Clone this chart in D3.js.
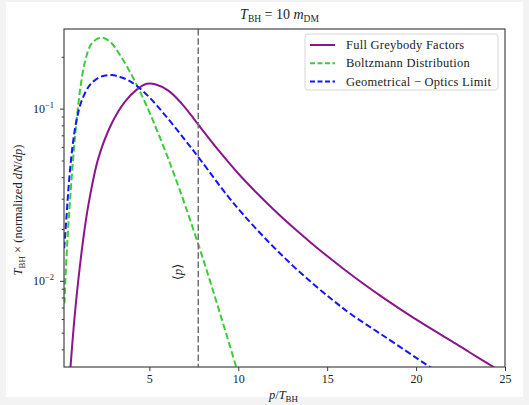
<!DOCTYPE html>
<html>
<head>
<meta charset="utf-8">
<script src="https://cdn.jsdelivr.net/npm/d3@7"></script>
<style>
body { margin: 0; background: #f3f3f3; }
svg { display: block; }
text { font-family: "Liberation Serif", "DejaVu Serif", serif; fill: #222; }
</style>
</head>
<body>
<div id="chart"></div>
<script>
// curves (p / T_BH , T_BH * normalized dN/dp)
const fullP = [0.45, 0.55, 0.75, 1.00, 1.30, 1.57, 2.13, 2.88, 3.63, 4.29, 4.85, 5.32, 6.07, 6.82, 7.57, 8, 9, 10, 11, 12, 13, 14, 15, 16, 17, 18, 19, 20, 21, 22, 23, 24, 25];
const fullV = [0.00219, 0.00301, 0.00547, 0.0100, 0.01803, 0.02754, 0.0514, 0.0819, 0.1099, 0.1289, 0.1393, 0.1387, 0.1272, 0.1070, 0.0855, 0.0748, 0.0555, 0.0420, 0.0327, 0.0259, 0.0208, 0.01694, 0.01393, 0.01156, 0.00968, 0.00818, 0.00697, 0.00597, 0.00515, 0.00447, 0.00385, 0.00333, 0.00288];

const boltzP = [0.22, 0.28, 0.37, 0.48, 0.72, 0.91, 1.10, 1.38, 1.76, 2.28, 2.79, 3.35, 3.91, 4.38, 4.76, 5.13, 5.50, 5.98, 6.35, 6.82, 7.85, 8.41, 8.97, 9.54, 9.86, 9.99];
const boltzV = [0.00738, 0.01028, 0.01556, 0.02393, 0.0519, 0.0858, 0.1272, 0.1873, 0.2395, 0.2582, 0.2446, 0.2048, 0.1634, 0.1316, 0.1086, 0.0889, 0.0718, 0.0539, 0.0426, 0.0313, 0.01519, 0.00999, 0.00649, 0.00415, 0.00322, 0.0029];

const geoP = [0.21, 0.34, 0.43, 0.54, 0.71, 0.93, 1.21, 1.66, 2.23, 2.88, 3.35, 3.82, 4.35, 5.04, 5.88, 7.01, 7.95, 9.35, 10.28, 11.60, 12.91, 14.22, 15.35, 16.29, 18.16, 20.60, 21.18];
const geoV = [0.0155, 0.02358, 0.03218, 0.04416, 0.06412, 0.0882, 0.1122, 0.1372, 0.1527, 0.1568, 0.1527, 0.1461, 0.1341, 0.1153, 0.0918, 0.0657, 0.0492, 0.0316, 0.02427, 0.01726, 0.01268, 0.00958, 0.00768, 0.00646, 0.0048, 0.00325, 0.00296];

const meanP = 7.75;
const xTicks = [5, 10, 15, 20, 25];
const yTicks = [0.1, 0.01];
const yTickExp = ["\u22121", "\u22122"];

const margin = { top: 29, right: 24, bottom: 38, left: 64 };
const width = 529 - margin.left - margin.right;
const height = 405 - margin.top - margin.bottom;

const root = d3.select("#chart").append("svg")
    .attr("width", 529)
    .attr("height", 405);

root.append("rect")
    .attr("x", 6).attr("y", 2)
    .attr("width", 517).attr("height", 395)
    .attr("fill", "#fff");

const svg = root.append("g")
    .attr("transform", `translate(${margin.left},${margin.top})`);

const xScale = d3.scaleLinear().domain([0.2, 25]).range([0, width]);
const yScale = d3.scaleLog().domain([0.00316, 0.29]).range([height, 0]);

svg.append("clipPath").attr("id", "plot-clip")
    .append("rect").attr("width", width).attr("height", height);

// x axis
const xAxis = svg.append("g")
    .attr("transform", `translate(0,${height})`)
    .call(d3.axisBottom(xScale).tickValues(xTicks).tickSize(4).tickPadding(3).tickFormat(d3.format("d")));
xAxis.select(".domain").remove();
xAxis.selectAll("line").attr("stroke", "#333");
xAxis.selectAll("text").style("font-size", "12px").style("font-family", "Liberation Serif").attr("fill", "#222");

// y axis, minor ticks then major
const minor = yScale.ticks().filter(t => yTicks.indexOf(t) < 0);
const yMinor = svg.append("g")
    .call(d3.axisLeft(yScale).tickValues(minor).tickSize(2.3).tickFormat(""));
yMinor.select(".domain").remove();
yMinor.selectAll("line").attr("stroke", "#333");

const yAxis = svg.append("g")
    .call(d3.axisLeft(yScale).tickValues(yTicks).tickSize(4).tickFormat(""));
yAxis.select(".domain").remove();
yAxis.selectAll("line").attr("stroke", "#333");

yTicks.forEach((t, i) => {
    const lab = svg.append("text")
        .attr("x", -10)
        .attr("y", yScale(t) + 4)
        .attr("text-anchor", "end")
        .style("font-size", "12px");
    lab.append("tspan").text("10");
    lab.append("tspan").attr("dy", -5).style("font-size", "8.5px").text(yTickExp[i]);
});

const line = d3.line()
    .x(d => xScale(d[0]))
    .y(d => yScale(d[1]))
    .curve(d3.curveCatmullRom.alpha(0.5));

const plot = svg.append("g").attr("clip-path", "url(#plot-clip)");

const series = [
    { name: "Full Greybody Factors", p: fullP, v: fullV, color: "#8b168b", dash: null },
    { name: "Boltzmann Distribution", p: boltzP, v: boltzV, color: "#3acc3a", dash: "6.5,3" },
    { name: "Geometrical \u2212 Optics Limit", p: geoP, v: geoV, color: "#1515ff", dash: "6.5,3" }
];

series.forEach(s => {
    plot.append("path")
        .datum(s.p.map((p, i) => [p, s.v[i]]))
        .attr("fill", "none")
        .attr("stroke", s.color)
        .attr("stroke-width", 2)
        .attr("stroke-dasharray", s.dash)
        .attr("d", line);
});

// mean momentum marker
plot.append("line")
    .attr("x1", xScale(meanP)).attr("x2", xScale(meanP))
    .attr("y1", 0).attr("y2", height)
    .attr("stroke", "#707070")
    .attr("stroke-width", 1.5)
    .attr("stroke-dasharray", "6.5,2.8");

const pLab = svg.append("text")
    .attr("transform", `translate(${xScale(meanP) - 20},${272 - margin.top}) rotate(-90)`)
    .attr("y", 4)
    .attr("text-anchor", "middle")
    .style("font-size", "13px")
    .attr("fill", "#555");
pLab.append("tspan").text("\u27E8");
pLab.append("tspan").style("font-style", "italic").text("p");
pLab.append("tspan").text("\u27E9");

// frame
svg.append("rect")
    .attr("width", width).attr("height", height)
    .attr("fill", "none")
    .attr("stroke", "#444")
    .attr("stroke-width", 1.2);

// legend
const legend = svg.append("g").attr("transform", "translate(241,5)");
legend.append("rect")
    .attr("width", 193).attr("height", 56)
    .attr("rx", 3)
    .attr("fill", "#fff")
    .attr("fill-opacity", 0.85)
    .attr("stroke", "#d6d6d6");

series.forEach((s, i) => {
    const yy = 11 + i * 18.3;
    legend.append("line")
        .attr("x1", 5).attr("x2", 30)
        .attr("y1", yy).attr("y2", yy)
        .attr("stroke", s.color)
        .attr("stroke-width", 2)
        .attr("stroke-dasharray", s.dash ? "5,2.5" : null);
    legend.append("text")
        .attr("x", 41).attr("y", yy + 4)
        .style("font-size", "12.5px")
        .style("letter-spacing", "0.25px")
        .text(s.name);
});

// title
const title = svg.append("text")
    .attr("x", width / 2 - 5).attr("y", -10)
    .attr("text-anchor", "middle")
    .style("font-size", "14px");
title.append("tspan").style("font-style", "italic").text("T");
title.append("tspan").attr("dy", 3).style("font-size", "9.5px").text("BH");
title.append("tspan").attr("dy", -3).text(" = 10 ");
title.append("tspan").style("font-style", "italic").text("m");
title.append("tspan").attr("dy", 3).style("font-size", "9.5px").text("DM");

// axis labels
const xLab = svg.append("text")
    .attr("x", width / 2 - 1).attr("y", height + 32)
    .attr("text-anchor", "middle")
    .style("font-size", "12.5px");
xLab.append("tspan").style("font-style", "italic").text("p");
xLab.append("tspan").text("/");
xLab.append("tspan").style("font-style", "italic").text("T");
xLab.append("tspan").attr("dy", 3).style("font-size", "9px").text("BH");

const yLab = svg.append("text")
    .attr("transform", `translate(-42,${height / 2 + 12}) rotate(-90)`)
    .attr("text-anchor", "middle")
    .style("font-size", "12.5px");
yLab.append("tspan").style("font-style", "italic").text("T");
yLab.append("tspan").attr("dy", 3).style("font-size", "9px").text("BH");
yLab.append("tspan").attr("dy", -3).text(" \u00D7 (normalized ");
yLab.append("tspan").style("font-style", "italic").text("dN");
yLab.append("tspan").text("/");
yLab.append("tspan").style("font-style", "italic").text("dp");
yLab.append("tspan").text(")");
</script>
</body>
</html>
